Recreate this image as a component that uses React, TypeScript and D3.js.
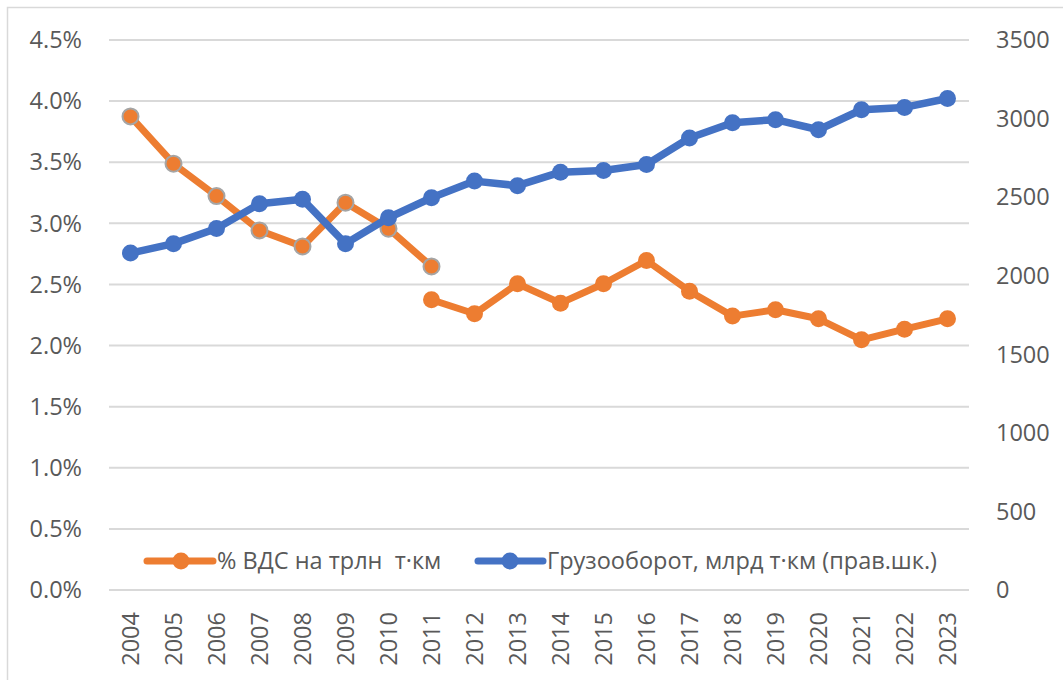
import React from "react";
import * as d3 from "d3";

const years = ["2004","2005","2006","2007","2008","2009","2010","2011","2012","2013","2014","2015","2016","2017","2018","2019","2020","2021","2022","2023"];
// % ВДС на трлн т·км — старая методика (2004–2011)
const shareOldYears = ["2004","2005","2006","2007","2008","2009","2010","2011"];
const shareOld = [3.875, 3.488, 3.223, 2.942, 2.811, 3.169, 2.956, 2.647];
// % ВДС на трлн т·км — новая методика (2011–2023)
const shareNewYears = ["2011","2012","2013","2014","2015","2016","2017","2018","2019","2020","2021","2022","2023"];
const shareNew = [2.375, 2.26, 2.506, 2.347, 2.506, 2.696, 2.445, 2.241, 2.293, 2.219, 2.047, 2.134, 2.219];
// Грузооборот, млрд т·км
const freight = [2144, 2204, 2301, 2458, 2486, 2204, 2369, 2496, 2602, 2573, 2659, 2670, 2708, 2876, 2974, 2993, 2929, 3056, 3071, 3128];

const leftTicks = [0, 0.5, 1, 1.5, 2, 2.5, 3, 3.5, 4, 4.5];
const rightTicks = [0, 500, 1000, 1500, 2000, 2500, 3000, 3500];
const legendLabels = ["% ВДС на трлн  т·км", "Грузооборот, млрд т·км (прав.шк.)"];

const ORANGE = "#ED7D31";
const BLUE = "#4472C4";
const GRAY = "#A5A5A5";
const TEXT = "#595959";
const GRID = "#D9D9D9";
const FONT = "'Open Sans', sans-serif";

export default function App() {
  const W = 1063, H = 680;
  const x0 = 109, x1 = 969, yTop = 40, yBot = 590;
  const x = d3.scaleBand<string>().domain(years).range([x0, x1]);
  const cx = (yr: string) => (x(yr) as number) + x.bandwidth() / 2;
  const yL = d3.scaleLinear().domain([0, 4.5]).range([yBot, yTop]);
  const yR = d3.scaleLinear().domain([0, 3500]).range([yBot, yTop]);

  const oldPts = shareOld.map((v, i) => [cx(shareOldYears[i]), yL(v)] as [number, number]);
  const newPts = shareNew.map((v, i) => [cx(shareNewYears[i]), yL(v)] as [number, number]);
  const bluePts = freight.map((v, i) => [cx(years[i]), yR(v)] as [number, number]);
  const line = d3.line<[number, number]>();

  const legY = 561;

  return (
    <svg width={W} height={H} style={{ position: "absolute", left: 0, top: 0, fontFamily: FONT }}>
      <rect x={0} y={0} width={W} height={H} fill="#fff" />
      <path d={`M7.5,${H + 2} V7.5 H${W + 2}`} fill="none" stroke={GRID} strokeWidth={1.5} />
      {leftTicks.map((t) => (
        <line key={"g" + t} x1={x0} x2={x1} y1={yL(t)} y2={yL(t)} stroke={GRID} strokeWidth={2} />
      ))}
      {leftTicks.map((t) => (
        <text key={"l" + t} x={82} y={yL(t)} dy="0.35em" textAnchor="end" fontSize={23.5} fill={TEXT}>
          {d3.format(".1f")(t) + "%"}
        </text>
      ))}
      {rightTicks.map((t) => (
        <text key={"r" + t} x={996} y={yR(t)} dy="0.35em" textAnchor="start" fontSize={23.5} fill={TEXT}>
          {t}
        </text>
      ))}
      {years.map((yr) => (
        <text key={"x" + yr} transform={`translate(${cx(yr)},612) rotate(-90)`} dy="0.35em" textAnchor="end" fontSize={23.5} fill={TEXT}>
          {yr}
        </text>
      ))}
      <path d={line(oldPts) || ""} fill="none" stroke={ORANGE} strokeWidth={7} strokeLinejoin="round" strokeLinecap="round" />
      <path d={line(newPts) || ""} fill="none" stroke={ORANGE} strokeWidth={7} strokeLinejoin="round" strokeLinecap="round" />
      {oldPts.map((p, i) => (
        <circle key={"o" + i} cx={p[0]} cy={p[1]} r={8} fill={ORANGE} stroke={GRAY} strokeWidth={2} />
      ))}
      {newPts.map((p, i) => (
        <circle key={"n" + i} cx={p[0]} cy={p[1]} r={8.5} fill={ORANGE} />
      ))}
      <path d={line(bluePts) || ""} fill="none" stroke={BLUE} strokeWidth={7.5} strokeLinejoin="round" strokeLinecap="round" />
      {bluePts.map((p, i) => (
        <circle key={"b" + i} cx={p[0]} cy={p[1]} r={8.5} fill={BLUE} />
      ))}
      {/* legend */}
      <line x1={147} x2={213} y1={legY} y2={legY} stroke={ORANGE} strokeWidth={7} strokeLinecap="round" />
      <circle cx={181} cy={legY} r={8.5} fill={ORANGE} />
      <text x={217} y={legY} dy="0.35em" fontSize={23.5} fill={TEXT} style={{ whiteSpace: "pre" }}>{legendLabels[0]}</text>
      <line x1={478} x2={543} y1={legY} y2={legY} stroke={BLUE} strokeWidth={7} strokeLinecap="round" />
      <circle cx={510} cy={legY} r={8.5} fill={BLUE} />
      <text x={547} y={legY} dy="0.35em" fontSize={23.5} fill={TEXT}>{legendLabels[1]}</text>
    </svg>
  );
}
